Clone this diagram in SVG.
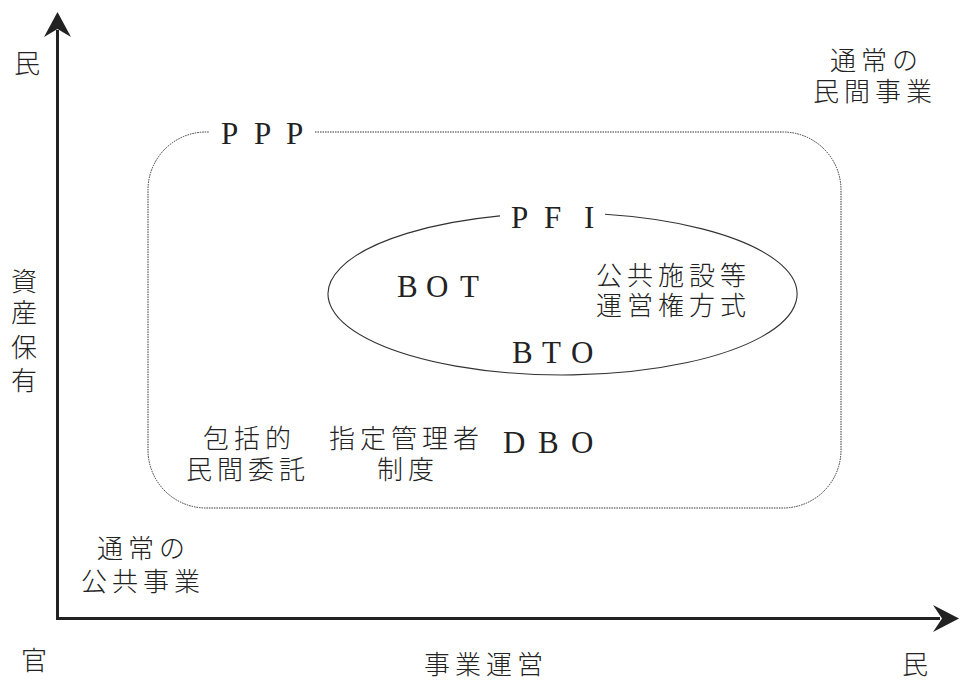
<svg xmlns="http://www.w3.org/2000/svg" width="961" height="680" viewBox="0 0 961 680">
<style>
.jp{font-family:"Noto Sans CJK JP","Noto Sans CJK SC",sans-serif;font-size:26px;font-weight:300;letter-spacing:5px;fill:#222}
.lat{font-family:"Liberation Serif","Times New Roman",serif;font-size:31px;fill:#222}
.axis{stroke:#222;stroke-width:3;fill:none}
.head{fill:#222;stroke:none}
.dot{fill:none;stroke:#333;stroke-width:1;stroke-dasharray:1.5 1}
.sol{fill:none;stroke:#333;stroke-width:1.1}
</style>
<rect width="961" height="680" fill="#fff"/>
<g id="connectors">
  <line class="axis" x1="57.5" y1="618.5" x2="57.5" y2="30"/>
  <path class="head" d="M57.5 12 L71 37 L57.5 29 L44 37 Z"/>
  <line class="axis" x1="56" y1="618.5" x2="940" y2="618.5"/>
  <path class="head" d="M959 618.5 L933 605 L942 618.5 L933 632 Z"/>
</g>
<g id="axis-labels">
  <text class="jp" x="14" y="73">民</text>
  <text class="jp" x="11" y="291">資</text>
  <text class="jp" x="11" y="322">産</text>
  <text class="jp" x="11" y="357">保</text>
  <text class="jp" x="11" y="390">有</text>
  <text class="jp" x="21" y="670">官</text>
  <text class="jp" x="424" y="674">事業運営</text>
  <text class="jp" x="902" y="674">民</text>
</g>
<g id="private-business">
  <text class="jp" x="830" y="70">通常の</text>
  <text class="jp" x="813" y="101">民間事業</text>
</g>
<g id="public-business">
  <text class="jp" x="97" y="558">通常の</text>
  <text class="jp" x="81" y="591">公共事業</text>
</g>
<g id="ppp">
  <path class="dot" d="M315 132 H783 A58 58 0 0 1 841 190 V450 A58 58 0 0 1 783 508 H206 A58 58 0 0 1 148 450 V190 A58 58 0 0 1 206 132 H209"/>
  <text class="lat" x="221 254 286" y="144">PPP</text>
</g>
<g id="pfi">
  <path class="sol" d="M605 214.3 A234.5 81 0 1 1 500 215.9"/>
  <text class="lat" x="511 544 584" y="228">PFI</text>
</g>
<g id="bot">
  <text class="lat" x="397 426 460" y="297">BOT</text>
</g>
<g id="concession">
  <text class="jp" x="596" y="285">公共施設等</text>
  <text class="jp" x="596" y="315">運営権方式</text>
</g>
<g id="bto">
  <text class="lat" x="512 542 571" y="363">BTO</text>
</g>
<g id="comprehensive">
  <text class="jp" x="203" y="448">包括的</text>
  <text class="jp" x="186" y="479">民間委託</text>
</g>
<g id="designated">
  <text class="jp" x="329" y="448">指定管理者</text>
  <text class="jp" x="377" y="479">制度</text>
</g>
<g id="dbo">
  <text class="lat" x="503 538 571" y="453">DBO</text>
</g>
</svg>
